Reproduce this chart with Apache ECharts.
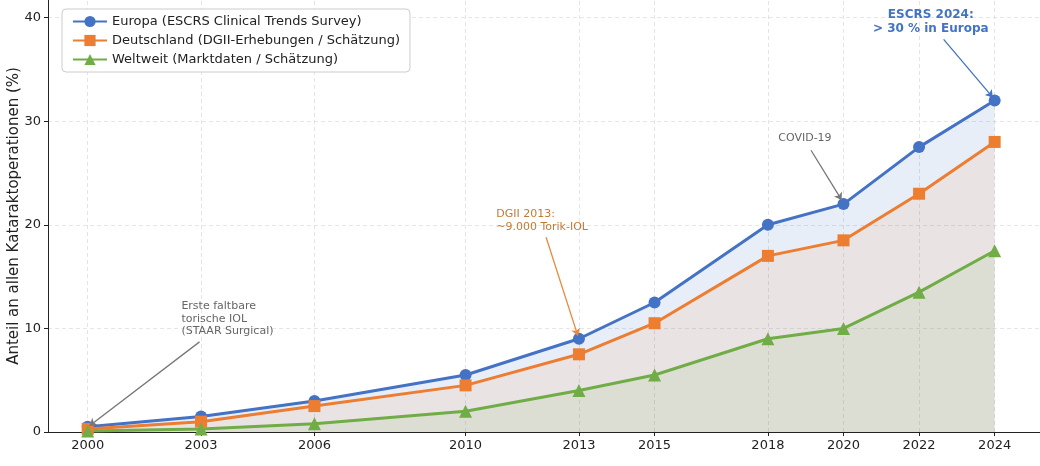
<!DOCTYPE html>
<html lang="de">
<head>
    <meta charset="UTF-8">
    <title>Torische IOL - Anteil</title>
    <script src="https://cdn.jsdelivr.net/npm/echarts@6/dist/echarts.min.js"></script>
    <style>
        html, body { margin: 0; padding: 0; background: #fff; }
        #chart { width: 1040px; height: 466px; }
    </style>
</head>
<body>
    <div id="chart"></div>
    <script>
        // Jahre (x-Achse, proportional)
        var years = [2000, 2003, 2006, 2010, 2013, 2015, 2018, 2020, 2022, 2024];
        var europa = [0.5, 1.5, 3, 5.5, 9, 12.5, 20, 22, 27.5, 32];
        var deutschland = [0.3, 1, 2.5, 4.5, 7.5, 10.5, 17, 18.5, 23, 28];
        var weltweit = [0.1, 0.3, 0.8, 2, 4, 5.5, 9, 10, 13.5, 17.5];

        var FONT = 'DejaVu Sans';
        var BLUE = '#4472C4', ORANGE = '#ED7D31', GREEN = '#70AD47';

        function pairs(vals) {
            return years.map(function (y, i) { return [y, vals[i]]; });
        }

        function textMark(coord, text, label) {
            return {
                coord: coord,
                symbol: 'rect',
                symbolSize: 1,
                itemStyle: { color: 'rgba(0,0,0,0)' },
                label: Object.assign({
                    show: true,
                    position: 'inside',
                    formatter: text,
                    fontFamily: FONT,
                    fontSize: 11,
                    lineHeight: 12.5
                }, label)
            };
        }

        var chart = echarts.init(document.getElementById('chart'));
        var option = {
            animation: false,
            textStyle: { fontFamily: FONT },
            grid: { left: 48, right: 0, top: 0, bottom: 34, containLabel: false, outerBoundsMode: 'none' },
            legend: {
                orient: 'vertical',
                left: 62,
                top: 9,
                padding: [6, 10, 6, 10],
                itemGap: 6,
                itemWidth: 34,
                itemHeight: 14,
                backgroundColor: '#fff',
                borderColor: '#cccccc',
                borderWidth: 1,
                borderRadius: 4,
                textStyle: { fontFamily: FONT, fontSize: 13, color: '#222' },
                data: ['Europa (ESCRS Clinical Trends Survey)',
                       'Deutschland (DGII-Erhebungen / Schätzung)',
                       'Weltweit (Marktdaten / Schätzung)']
            },
            xAxis: {
                type: 'value',
                min: 1998.95,
                max: 2025.2,
                axisLine: { lineStyle: { color: '#222', width: 1 } },
                axisTick: { show: true, customValues: years, length: 4, lineStyle: { color: '#222' } },
                axisLabel: {
                    customValues: years,
                    fontSize: 13, color: '#222', margin: 7,
                    formatter: function (v) { return String(Math.round(v)); }
                },
                splitLine: { show: false }
            },
            yAxis: {
                type: 'value',
                min: 0,
                max: 41.7,
                interval: 10,
                name: 'Anteil an allen Kataraktoperationen (%)',
                nameLocation: 'middle',
                nameGap: 26,
                nameMoveOverlap: false,
                nameTextStyle: { fontSize: 15, color: '#222' },
                axisLine: { show: true, lineStyle: { color: '#222', width: 1 } },
                axisTick: { show: true, length: 4, lineStyle: { color: '#222' } },
                axisLabel: { fontSize: 13, color: '#222', margin: 7, showMaxLabel: false },
                splitLine: { show: true, showMaxLine: false, lineStyle: { type: [4, 3], color: '#e0e0e0', width: 0.8 } }
            },
            series: [
                {
                    // nur vertikale Gitterlinien, unter den Kurven
                    name: 'gitter',
                    type: 'line',
                    data: [],
                    z: 1,
                    markLine: {
                        silent: true,
                        z: 1,
                        symbol: 'none',
                        label: { show: false },
                        lineStyle: { type: [4, 3], color: '#dddddd', width: 0.8 },
                        data: years.map(function (y) { return { xAxis: y }; })
                    }
                },
                {
                    name: 'Europa (ESCRS Clinical Trends Survey)',
                    type: 'line',
                    data: pairs(europa),
                    symbol: 'circle',
                    symbolSize: 12,
                    lineStyle: { color: BLUE, width: 3 },
                    itemStyle: { color: BLUE, borderWidth: 0 },
                    areaStyle: { color: BLUE, opacity: 0.12 }
                },
                {
                    name: 'Deutschland (DGII-Erhebungen / Schätzung)',
                    type: 'line',
                    data: pairs(deutschland),
                    symbol: 'rect',
                    symbolSize: 12,
                    lineStyle: { color: ORANGE, width: 3 },
                    itemStyle: { color: ORANGE, borderWidth: 0 },
                    areaStyle: { color: ORANGE, opacity: 0.1 },
                    markLine: {
                        silent: true,
                        symbol: ['none', 'arrow'],
                        symbolSize: 7,
                        label: { show: false },
                        data: [
                            [{ coord: [2002.96, 8.7], lineStyle: { color: '#777', width: 1.3, type: 'solid' } },
                             { coord: [2000.05, 0.6] }],
                            [{ coord: [2012.13, 18.8], lineStyle: { color: '#E8893F', width: 1.3, type: 'solid' } },
                             { coord: [2012.97, 9.3] }],
                            [{ coord: [2019.14, 27.2], lineStyle: { color: '#777', width: 1.3, type: 'solid' } },
                             { coord: [2019.95, 22.4] }],
                            [{ coord: [2022.65, 37.9], lineStyle: { color: BLUE, width: 1.3, type: 'solid' } },
                             { coord: [2023.95, 32.3] }]
                        ]
                    },
                    markPoint: {
                        silent: true,
                        data: [
                            textMark([2002.48, 12.75], 'Erste faltbare\ntorische IOL\n(STAAR Surgical)',
                                { align: 'left', verticalAlign: 'top', color: '#666' }),
                            textMark([2010.81, 21.6], 'DGII 2013:\n~9.000 Torik-IOL',
                                { align: 'left', verticalAlign: 'top', color: '#C47A35' }),
                            textMark([2018.98, 28.4], 'COVID-19',
                                { align: 'center', verticalAlign: 'middle', color: '#666' }),
                            textMark([2022.31, 40.9], 'ESCRS 2024:\n> 30 % in Europa',
                                { align: 'center', verticalAlign: 'top', color: BLUE, fontWeight: 'bold', fontSize: 12, lineHeight: 14 })
                        ]
                    }
                },
                {
                    name: 'Weltweit (Marktdaten / Schätzung)',
                    type: 'line',
                    data: pairs(weltweit),
                    symbol: 'triangle',
                    symbolSize: 13,
                    lineStyle: { color: GREEN, width: 3 },
                    itemStyle: { color: GREEN, borderWidth: 0 },
                    areaStyle: { color: GREEN, opacity: 0.1 }
                }
            ]
        };
        chart.setOption(option);
    </script>
</body>
</html>
